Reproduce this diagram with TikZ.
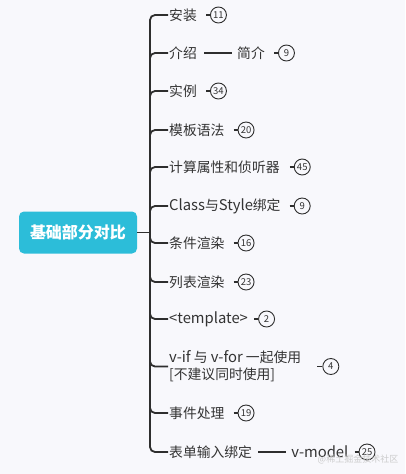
\documentclass[tikz,border=0pt]{standalone}
\usepackage{fontspec}
\setmainfont{Noto Sans CJK SC}
\usetikzlibrary{positioning}
\definecolor{bg}{HTML}{F8F8FC}
\definecolor{ink}{HTML}{2E2E2E}
\definecolor{txt}{HTML}{333333}
\definecolor{rootc}{HTML}{2CBDD9}
\newcommand{\lt}[1]{{\fontsize{14.8}{17}\selectfont #1}}
\tikzset{
  topic/.style={anchor=west, inner xsep=1pt, inner ysep=2pt, font=\fontsize{13.8}{17}\selectfont, text=txt},
  badge/.style={circle, draw=ink, line width=0.9pt, minimum size=16pt, inner sep=0pt, font=\fontsize{9.5}{9.5}\selectfont, text=txt},
  conn/.style={draw=ink, line width=1.8pt, rounded corners=5pt},
  rootbox/.style={fill=rootc, rounded corners=5pt, minimum width=118pt, minimum height=42pt, text=white, font=\fontsize{16}{16}\selectfont\bfseries}
}
\begin{document}
\begin{tikzpicture}[x=1pt, y=-1pt]
\fill[bg] (0,0) rectangle (405,474);
\useasboundingbox (0,0) rectangle (405,474);

\node[rootbox] (root) at (78,232.5) {基础部分对比};
\coordinate (tr) at (150,232.5);

\node[topic] (t1) at (168,15) {安装};
\node[topic] (t2) at (168,53) {介绍};
\node[topic] (t3) at (168,91) {实例};
\node[topic] (t4) at (168,130) {模板语法};
\node[topic] (t5) at (168,167) {计算属性和侦听器};
\node[topic] (t6) at (168,206) {\lt{Class}与\lt{Style}绑定};
\node[topic] (t7) at (168,243) {条件渲染};
\node[topic] (t8) at (168,282) {列表渲染};
\node[topic] (t9) at (168,319) {\lt{<template>}};
\node[topic, align=left] (t10) at (168,366.5) {\lt{v-if} 与 \lt{v-for} 一起使用\\{}[不建议同时使用]};
\node[topic] (t11) at (168,413) {事件处理};
\node[topic] (t12) at (168,452) {表单输入绑定};

\node[topic, right=38pt of t2] (t2b) {简介};
\node[topic, right=37pt of t12] (t12b) {\lt{v-model}};

\node[badge, right=12pt of t1] (b1) {11};
\node[badge, right=12pt of t2b] (b2) {9};
\node[badge, right=12pt of t3] (b3) {34};
\node[badge, right=12pt of t4] (b4) {20};
\node[badge, right=13pt of t5] (b5) {45};
\node[badge, right=12pt of t6] (b6) {9};
\node[badge, right=12pt of t7] (b7) {16};
\node[badge, right=12pt of t8] (b8) {23};
\node[badge, right=9pt of t9] (b9) {2};
\node[badge, right=20pt of t10] (b10) {4};
\node[badge, right=12pt of t11] (b11) {19};
\node[badge, right=9pt of t12b] (b12) {25};

\draw[conn] (root) -- (tr);
\foreach \i in {1,...,12} {
  \draw[conn] (tr) |- (t\i.west);
}
\draw[conn, shorten <=6pt, shorten >=4pt] (t2) -- (t2b);
\draw[conn, shorten <=5pt, shorten >=4pt] (t12) -- (t12b);

\foreach \a/\b/\s in {t1/b1/8, t2b/b2/8, t3/b3/8, t4/b4/8, t5/b5/9, t6/b6/8, t7/b7/8, t8/b8/8, t9/b9/5, t10/b10/15, t11/b11/8, t12b/b12/5} {
  \draw[conn, shorten <=\s pt] (\a) -- (\b);
}

\node[text=gray!40, font=\fontsize{9}{9}\selectfont] (wm) at (358,459) {@稀土掘金技术社区};
\end{tikzpicture}
\end{document}
